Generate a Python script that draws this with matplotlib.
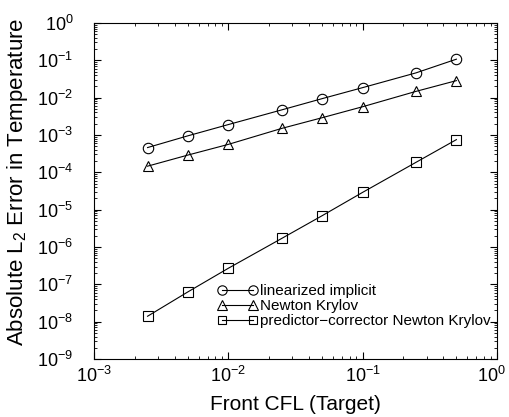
import numpy as np
import matplotlib
matplotlib.use('Agg')
import matplotlib.pyplot as plt
from matplotlib.transforms import ScaledTranslation

plt.rcParams['font.family'] = ['Liberation Sans', 'DejaVu Sans']
plt.rcParams['mathtext.default'] = 'regular'

# data
cfl = [0.0025, 0.005, 0.01, 0.025, 0.05, 0.1, 0.25, 0.5]
lin_implicit = [4.6e-4, 9.5e-4, 1.9e-3, 4.7e-3, 9.4e-3, 1.85e-2, 4.6e-2, 1.07e-1]
newton_krylov = [1.46e-4, 2.9e-4, 5.6e-4, 1.5e-3, 2.9e-3, 5.7e-3, 1.47e-2, 2.85e-2]
pc_newton_krylov = [1.4e-8, 6.3e-8, 2.7e-7, 1.7e-6, 6.9e-6, 2.9e-5, 1.85e-4, 7.5e-4]
xticks = [1e-3, 1e-2, 1e-1, 1e0]

fig = plt.figure(figsize=(5.09, 4.17), dpi=100)
ax = fig.add_axes([0.185, 0.139, 0.791, 0.806])

style = dict(color='black', linewidth=0.8, markerfacecolor='none',
             markeredgecolor='black', markeredgewidth=0.8)
ax.plot(cfl, lin_implicit, marker='o', markersize=7.5, label='linearized implicit', **style)
ax.plot(cfl, newton_krylov, marker='^', markersize=7.5, label='Newton Krylov', **style)
ax.plot(cfl, pc_newton_krylov, marker='s', markersize=6.5,
        label='predictor\u2212corrector Newton Krylov', **style)

ax.set_xscale('log')
ax.set_yscale('log')
ax.set_xlim(1e-3, 1e0)
ax.set_ylim(1e-9, 1e0)
ax.set_xticks(xticks)
ax.set_yticks([10.0**e for e in range(-9, 1)])
ax.yaxis.set_minor_locator(matplotlib.ticker.LogLocator(base=10, subs=np.arange(2, 10), numticks=20))
ax.yaxis.set_minor_formatter(matplotlib.ticker.NullFormatter())
ax.tick_params(which='both', direction='in', top=True, right=True)
ax.tick_params(which='major', length=5, labelsize=13)
ax.tick_params(which='minor', length=2.5)
ax.tick_params(axis='y', which='major', pad=15)
ax.tick_params(axis='x', which='major', pad=5)

# nudge the 10^0 label left so it stays inside the figure
last = ax.xaxis.get_major_ticks()[-1].label1
last.set_transform(last.get_transform() + ScaledTranslation(-4 / 72, 0, fig.dpi_scale_trans))

ax.set_xlabel('Front CFL (Target)', fontsize=15)
ax.set_ylabel('Absolute L$_2$ Error in Temperature', fontsize=16)
ax.xaxis.set_label_coords(0.5, -0.108)
ax.yaxis.set_label_coords(-0.16, 0.527)

ax.legend(loc='upper left', bbox_to_anchor=(0.306, 0.222), frameon=False,
          numpoints=2, fontsize=11, handlelength=2.6, handletextpad=0.2,
          labelspacing=0.05, borderpad=0, borderaxespad=0, markerscale=0.9)

fig.savefig('out.png', dpi=100)
